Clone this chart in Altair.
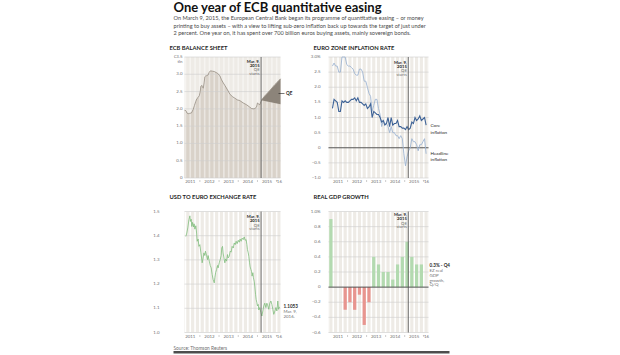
import altair as alt
import pandas as pd

FONT = "Lato"
INK = "#1f1f1f"
MUTED = "#6f6f6f"
BG = "#eeebe6"
GRID = "#cfcfcf"
RULE_DARK = "#505050"

TITLE = "One year of ECB quantitative easing"
SUBTITLE = [
    "On March 9, 2015, the European Central Bank began its programme of quantitative easing \u2013 or money",
    "printing to buy assets \u2013 with a view to lifting sub-zero inflation back up towards the target of just under",
    "2 percent. One year on, it has spent over 700 billion euros buying assets, mainly sovereign bonds.",
]
SOURCE = "Source: Thomson Reuters"

QE_DATE = 2015.19
YEAR_LABELS = [2011.5, 2012.5, 2013.5, 2014.5, 2015.5, 2016.12]
YEAR_TICKS = [2012.0, 2013.0, 2014.0, 2015.0, 2016.0]

# ---------------- ECB balance sheet (EUR trillion) ----------------
bs_year = [2011.2, 2011.27, 2011.33, 2011.39, 2011.47, 2011.56, 2011.65, 2011.72, 2011.79, 2011.85,
           2011.91, 2011.97, 2012.02, 2012.05, 2012.1, 2012.14, 2012.18, 2012.22, 2012.26, 2012.3,
           2012.35, 2012.43, 2012.48, 2012.55, 2012.65, 2012.75, 2012.85, 2012.92, 2013.0, 2013.04,
           2013.13, 2013.22, 2013.3, 2013.44, 2013.56, 2013.7, 2013.82, 2013.95, 2014.08, 2014.26,
           2014.43, 2014.6, 2014.69, 2014.78, 2014.86, 2014.95, 2015.0, 2015.04, 2015.12, 2015.19,
           2015.3, 2015.45, 2015.6, 2015.75, 2015.9, 2016.05, 2016.2]
bs_value = [1.96, 1.95, 1.88, 1.86, 1.87, 1.88, 1.98, 2.1, 2.22, 2.3,
            2.33, 2.38, 2.5, 2.65, 2.68, 2.62, 2.6, 2.75, 2.93, 2.95,
            2.96, 2.98, 3.05, 3.1, 3.09, 3.08, 3.05, 3.03, 2.98, 2.96,
            2.84, 2.75, 2.68, 2.55, 2.43, 2.35, 2.31, 2.26, 2.24, 2.17,
            2.12, 2.05, 2.01, 2.0, 2.01, 2.05, 2.17, 2.15, 2.12, 2.22,
            2.32, 2.42, 2.5, 2.6, 2.7, 2.78, 2.87]
qe_year = [2015.19, 2016.2]
qe_top = [2.25, 2.87]
qe_bottom = [2.25, 2.13]
bs_ticks = [0, 0.5, 1.0, 1.5, 2.0, 2.5, 3.0, 3.5]

# ---------------- Euro zone inflation (%), monthly Mar 2011 - Feb 2016 ----------------
infl_first_year, infl_first_month = 2011, 3
headline = [2.7, 2.8, 2.7, 2.7, 2.5, 2.5, 3.0, 3.0, 3.0, 2.75,
            2.7, 2.7, 2.65, 2.6, 2.45, 2.4, 2.4, 2.6, 2.6, 2.5, 2.2, 2.2,
            2.0, 1.8, 1.7, 1.2, 1.4, 1.6, 1.6, 1.3, 1.1, 0.7, 0.9, 0.8,
            0.8, 0.7, 0.5, 0.7, 0.5, 0.5, 0.4, 0.4, 0.3, 0.4, 0.3, -0.2,
            -0.6, -0.3, -0.1, 0.0, 0.3, 0.2, 0.2, 0.1, -0.1, 0.1, 0.1, 0.2,
            0.3, -0.2]
core = [1.3, 1.6, 1.55, 1.5, 1.2, 1.2, 1.55, 1.5, 1.55, 1.5,
        1.5, 1.55, 1.6, 1.6, 1.65, 1.55, 1.65, 1.5, 1.5, 1.45, 1.4, 1.45,
        1.3, 1.35, 1.45, 1.0, 1.2, 1.15, 1.1, 1.1, 1.0, 0.85, 0.9, 0.75,
        0.8, 1.0, 0.7, 1.0, 0.75, 0.8, 0.8, 0.9, 0.7, 0.7, 0.65, 0.65,
        0.6, 0.7, 0.6, 0.65, 0.85, 0.8, 1.0, 0.9, 0.95, 1.05, 0.9, 0.95,
        1.0, 0.75]
infl_ticks = [-1.0, -0.5, 0, 0.5, 1.0, 1.5, 2.0, 2.5, 3.0]

# ---------------- USD per euro ----------------
fx_year = [2011.27, 2011.32, 2011.37, 2011.43, 2011.48, 2011.51, 2011.55, 2011.58, 2011.62, 2011.67,
           2011.7, 2011.74, 2011.79, 2011.83, 2011.86, 2011.91, 2011.95, 2012.0, 2012.05, 2012.09,
           2012.12, 2012.16, 2012.21, 2012.26, 2012.29, 2012.35, 2012.4, 2012.43, 2012.49, 2012.54,
           2012.59, 2012.64, 2012.69, 2012.75, 2012.78, 2012.82, 2012.87, 2012.92, 2012.95, 2013.01,
           2013.06, 2013.11, 2013.14, 2013.18, 2013.21, 2013.27, 2013.3, 2013.34, 2013.39, 2013.44,
           2013.47, 2013.53, 2013.58, 2013.63, 2013.68, 2013.74, 2013.79, 2013.84, 2013.89, 2013.94,
           2014.0, 2014.05, 2014.1, 2014.15, 2014.2, 2014.26, 2014.31, 2014.36, 2014.41, 2014.45,
           2014.48, 2014.52, 2014.55, 2014.59, 2014.62, 2014.66, 2014.69, 2014.72, 2014.76, 2014.79,
           2014.83, 2014.86, 2014.9, 2014.93, 2014.97, 2015.0, 2015.04, 2015.07, 2015.12, 2015.18,
           2015.23, 2015.28, 2015.33, 2015.38, 2015.44, 2015.49, 2015.54, 2015.59, 2015.64, 2015.7,
           2015.75, 2015.8, 2015.85, 2015.91, 2015.96, 2016.01, 2016.06, 2016.1, 2016.13, 2016.17]
fx_value = [1.397, 1.411, 1.432, 1.466, 1.482, 1.459, 1.468, 1.438, 1.455, 1.436,
            1.449, 1.427, 1.441, 1.411, 1.377, 1.386, 1.356, 1.363, 1.332, 1.308,
            1.288, 1.304, 1.329, 1.318, 1.336, 1.318, 1.301, 1.318, 1.295, 1.277,
            1.267, 1.24, 1.219, 1.205, 1.226, 1.247, 1.26, 1.277, 1.267, 1.288,
            1.301, 1.318, 1.349, 1.356, 1.329, 1.301, 1.288, 1.304, 1.295, 1.322,
            1.308, 1.315, 1.336, 1.332, 1.356, 1.349, 1.37, 1.363, 1.377, 1.367,
            1.381, 1.373, 1.386, 1.377, 1.39, 1.384, 1.395, 1.381, 1.384, 1.363,
            1.342, 1.329, 1.315, 1.288, 1.271, 1.26, 1.253, 1.233, 1.247, 1.226,
            1.212, 1.192, 1.158, 1.137, 1.123, 1.11, 1.116, 1.093, 1.103, 1.082,
            1.068, 1.089, 1.11, 1.121, 1.103, 1.121, 1.11, 1.096, 1.121, 1.13,
            1.116, 1.096, 1.075, 1.089, 1.103, 1.089, 1.13, 1.096, 1.103, 1.105]
fx_ticks = [1.0, 1.1, 1.2, 1.3, 1.4, 1.5]

# ---------------- Real GDP growth q/q (%), 2011Q1 - 2015Q4 ----------------
gdp_value = [0.9, 0.0, 0.0, -0.3, -0.2, -0.3, -0.1, -0.5, -0.2, 0.4,
             0.3, 0.2, 0.2, 0.1, 0.3, 0.4, 0.6, 0.4, 0.3, 0.3]
gdp_ticks = [-0.6, -0.4, -0.2, 0, 0.2, 0.4, 0.6, 0.8, 1.0]

# ---------------- layout ----------------
W1, W2, H = 96, 100, 121
XD1 = [2011.2, 2016.2]
XD2 = [2011.0, 2016.25]
QUARTERS = pd.DataFrame({"q": [2011 + 0.25 * i for i in range(22)]})
ONE = pd.DataFrame({"k": [0]})
QE_DF = pd.DataFrame({"x": [QE_DATE]})

AX_SIZE = 4.4


def xs(dom):
    return alt.Scale(domain=dom, nice=False, zero=False)


def ys(dom):
    return alt.Scale(domain=dom, nice=False, zero=False)


def stripes(dom, opacity=1.0):
    return alt.Chart(QUARTERS).mark_rule(color="white", strokeWidth=1.6, opacity=opacity, clip=True).encode(
        x=alt.X("q:Q", scale=xs(dom), axis=None))


def grid(ticks, ydom, color=GRID):
    return alt.Chart(pd.DataFrame({"t": ticks})).mark_rule(color=color, strokeWidth=0.6).encode(
        y=alt.Y("t:Q", scale=ys(ydom), axis=None))


def y_labels(ticks, ydom, expr, pad):
    return alt.Chart(pd.DataFrame({"t": ticks})).transform_calculate(lbl=expr).mark_text(
        align="right", baseline="middle", fontSize=AX_SIZE, color=MUTED, dx=-pad).encode(
        y=alt.Y("t:Q", scale=ys(ydom), axis=None), x=alt.value(0), text="lbl:N")


def x_labels(dom, yoff):
    return alt.Chart(pd.DataFrame({"yl": YEAR_LABELS})).transform_calculate(
        lbl="datum.yl > 2016 ? \"'16\" : toString(floor(datum.yl))").mark_text(
        align="center", baseline="middle", fontSize=AX_SIZE, color=MUTED).encode(
        x=alt.X("yl:Q", scale=xs(dom), axis=None), y=alt.value(H + yoff), text="lbl:N")


def x_ticks(dom, yoff):
    return alt.Chart(pd.DataFrame({"yt": YEAR_TICKS})).mark_rule(color="#9a9a9a", strokeWidth=0.5).encode(
        x=alt.X("yt:Q", scale=xs(dom), axis=None), y=alt.value(H + yoff - 1.5), y2=alt.value(H + yoff + 0.5))


def qe_rule(dom):
    return alt.Chart(QE_DF).mark_rule(color=RULE_DARK, strokeWidth=0.8).encode(
        x=alt.X("x:Q", scale=xs(dom), axis=None))


def qe_note(dom, y0):
    lines = [("Mar. 9,", INK, "bold", 0), ("2015", INK, "bold", 4), ("QE", MUTED, "normal", 8.5),
             ("starts", MUTED, "normal", 12)]
    out = []
    for txt, col, wt, off in lines:
        out.append(alt.Chart(QE_DF).mark_text(text=txt, align="right", baseline="middle", dx=-1.5,
                                              fontSize=4.2, color=col, fontWeight=wt).encode(
            x=alt.X("x:Q", scale=xs(dom), axis=None), y=alt.value(y0 + off)))
    return out


def label(text, x, y, size=4.5, color=INK, weight="normal", align="left"):
    return alt.Chart(ONE).mark_text(text=text, align=align, baseline="middle", fontSize=size,
                                    color=color, fontWeight=weight).encode(
        x=alt.value(x), y=alt.value(y))


# ---------------- panel 1: ECB balance sheet ----------------
bs = pd.DataFrame({"x": bs_year, "v": bs_value})
qe = pd.DataFrame({"x": qe_year, "top": qe_top, "bot": qe_bottom})
p1_layers = [
    alt.Chart(bs).mark_area(color="#d9d2c9").encode(
        x=alt.X("x:Q", scale=xs(XD1), axis=None), y=alt.Y("v:Q", scale=ys([0, 3.5]), axis=None)),
    stripes(XD1, 0.45),
    grid(bs_ticks, [0, 3.5]),
    y_labels(bs_ticks, [0, 3.5],
             "datum.t == 3.5 ? '\u20ac3.5' : (datum.t == 0 ? '0' : format(datum.t, '.1f'))", 2),
    x_labels(XD1, 3.5),
    x_ticks(XD1, 3.5),
    alt.Chart(qe).mark_area(color="#8c847a").encode(
        x=alt.X("x:Q", scale=xs(XD1), axis=None), y=alt.Y("top:Q", scale=ys([0, 3.5]), axis=None),
        y2="bot:Q"),
    alt.Chart(bs).mark_line(color="#968d82", strokeWidth=0.8).encode(
        x=alt.X("x:Q", scale=xs(XD1), axis=None), y=alt.Y("v:Q", scale=ys([0, 3.5]), axis=None)),
    qe_rule(XD1),
    *qe_note(XD1, 4.5),
    alt.Chart(ONE).mark_rule(color=INK, strokeWidth=0.6).encode(
        x=alt.value(94), x2=alt.value(100), y=alt.value(36.5)),
    label("QE", 101.5, 36.5, 4.6, INK, "bold"),
    label("tln", -2, 4.8, AX_SIZE, MUTED, align="right"),
    label("ECB BALANCE SHEET", -15, -9.5, 5.8, INK, "bold"),
    label(TITLE, -11, -49.5, 13, "#111111", "bold"),
    label(SUBTITLE[0], -11, -39, 5.6, "#4a4a4a"),
    label(SUBTITLE[1], -11, -31.5, 5.6, "#4a4a4a"),
    label(SUBTITLE[2], -11, -24, 5.6, "#4a4a4a"),
]
p1 = alt.layer(*p1_layers).properties(width=W1, height=H)

# ---------------- panel 2: inflation ----------------
months = [infl_first_year + (infl_first_month - 1 + i + 0.5) / 12 for i in range(len(headline))]
infl = pd.DataFrame({"x": months, "headline": headline, "core": core})
p2_layers = [
    stripes(XD2),
    grid(infl_ticks, [-1, 3]),
    y_labels(infl_ticks, [-1, 3],
             "datum.t == 3 ? '3.0%' : (datum.t == 0 ? '0' : format(datum.t, '.1f'))", 8),
    x_labels(XD2, 3.5),
    x_ticks(XD2, 3.5),
    alt.Chart(pd.DataFrame({"t": [0]})).mark_rule(color="#3a3a3a", strokeWidth=0.8).encode(
        y=alt.Y("t:Q", scale=ys([-1, 3]), axis=None)),
    alt.Chart(infl).mark_line(color="#9fb6d3", strokeWidth=0.9).encode(
        x=alt.X("x:Q", scale=xs(XD2), axis=None), y=alt.Y("headline:Q", scale=ys([-1, 3]), axis=None)),
    alt.Chart(infl).mark_line(color="#3e6397", strokeWidth=1.1).encode(
        x=alt.X("x:Q", scale=xs(XD2), axis=None), y=alt.Y("core:Q", scale=ys([-1, 3]), axis=None)),
    qe_rule(XD2),
    *qe_note(XD2, 5.5),
    label("Core", 102, 69.2, 4.6, INK),
    label("inflation", 102, 75.5, 4.6, INK),
    label("Headline", 102, 96.8, 4.6, INK),
    label("inflation", 102, 103.2, 4.6, INK),
    label("EURO ZONE INFLATION RATE", -15, -9.5, 5.8, INK, "bold"),
]
p2 = alt.layer(*p2_layers).properties(width=W2, height=H)

# ---------------- panel 3: USD to euro ----------------
fx = pd.DataFrame({"x": fx_year, "v": fx_value})
p3_layers = [
    stripes(XD1),
    grid(fx_ticks, [1.0, 1.5]),
    y_labels(fx_ticks, [1.0, 1.5], "format(datum.t, '.1f')", 25),
    x_labels(XD1, 4),
    x_ticks(XD1, 4),
    alt.Chart(fx).mark_line(color="#80bd7c", strokeWidth=0.8).encode(
        x=alt.X("x:Q", scale=xs(XD1), axis=None), y=alt.Y("v:Q", scale=ys([1.0, 1.5]), axis=None)),
    qe_rule(XD1),
    *qe_note(XD1, 5.5),
    label("1.1053", 99, 95.3, 4.6, INK, "bold"),
    label("Mar. 9,", 99, 100.7, 4.4, MUTED),
    label("2016.", 99, 105.5, 4.4, MUTED),
    label("USD TO EURO EXCHANGE RATE", -15, -15, 5.8, INK, "bold"),
    label(SOURCE, -11, 137, 4.8, MUTED),
    alt.Chart(ONE).mark_rule(color="#4d4d4d", strokeWidth=2.5).encode(
        x=alt.value(-11), x2=alt.value(265), y=alt.value(140.8)),
]
p3 = alt.layer(*p3_layers).properties(width=W1, height=H)

# ---------------- panel 4: GDP ----------------
gdp = pd.DataFrame({"i": list(range(len(gdp_value))), "v": gdp_value})
p4_layers = [
    stripes(XD2),
    grid(gdp_ticks, [-0.6, 1.0]),
    y_labels(gdp_ticks, [-0.6, 1.0],
             "datum.t == 1 ? '1.0%' : (datum.t == 0 ? '0' : format(datum.t, '.1f'))", 8),
    x_labels(XD2, 4),
    x_ticks(XD2, 4),
    alt.Chart(gdp).transform_calculate(
        x0="2011 + 0.25 * datum.i + 0.04", x1="2011 + 0.25 * datum.i + 0.21").mark_bar().encode(
        x=alt.X("x0:Q", scale=xs(XD2), axis=None), x2="x1:Q",
        y=alt.Y("v:Q", scale=ys([-0.6, 1.0]), axis=None), y2=alt.datum(0),
        color=alt.condition(alt.datum.v >= 0, alt.value("#b3dab0"), alt.value("#e8958f"))),
    alt.Chart(pd.DataFrame({"t": [0]})).mark_rule(color="#3a3a3a", strokeWidth=0.8).encode(
        y=alt.Y("t:Q", scale=ys([-0.6, 1.0]), axis=None)),
    qe_rule(XD2),
    *qe_note(XD2, 3.5),
    label("0.3% - Q4", 101, 54.7, 4.6, INK, "bold"),
    label("EZ real", 101, 59.5, 4.4, MUTED),
    label("GDP", 101, 64.2, 4.4, MUTED),
    label("growth,", 101, 69, 4.4, MUTED),
    label("Q/Q", 101, 73.7, 4.4, MUTED),
    label("REAL GDP GROWTH", -15, -15, 5.8, INK, "bold"),
]
p4 = alt.layer(*p4_layers).properties(width=W2, height=H)

chart = alt.concat(p1, p2, p3, p4, columns=2, spacing={"row": 33.5, "column": 48}, bounds="flush").properties(
    padding={"left": 152.5, "top": 1, "right": 0, "bottom": 0}, background="white"
).configure(font=FONT).configure_view(fill=BG, stroke=None)

chart.save("out.html", embed_options={"renderer": "svg", "actions": False})
